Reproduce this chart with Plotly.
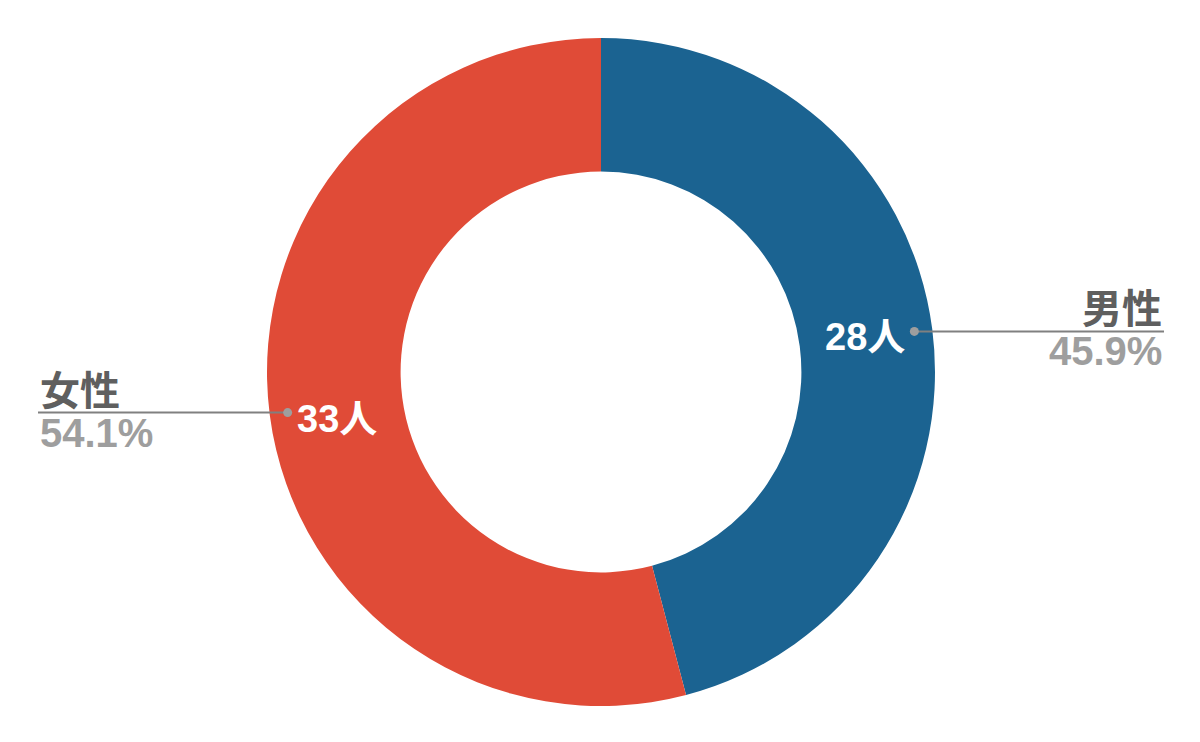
import math
import plotly.graph_objects as go

labels = ["男性", "女性"]
values = [28, 33]
colors = ["#1B6391", "#E04B37"]
counts_text = ["28人", "33人"]

W, H = 1200, 742
PW = 668
L, T = 259, 30
R, B = W - L - PW, H - T - PW
pw, ph = PW, PW
OFF = 7  # page offset in the screenshot

fig = go.Figure(go.Pie(
    labels=labels, values=values, sort=False, direction="clockwise", rotation=0,
    hole=0.6, marker=dict(colors=colors, line=dict(width=0)),
    textinfo="none", hoverinfo="label+value+percent", showlegend=False,
))

font_fam = "Arial, Liberation Sans, Noto Sans CJK JP, sans-serif"
total = sum(values)
cum = 0
ann = []
shapes = []
r_dot = 0.473
for i, v in enumerate(values):
    mid = (cum + v / 2) / total * 2 * math.pi
    cum += v
    dx = 0.5 + r_dot * math.sin(mid)
    dy = 0.5 + r_dot * math.cos(mid)
    pct = f"{v / total * 100:.1f}%"
    right = math.sin(mid) > 0
    end_px = (1163 if right else 37) - OFF
    end_x = (end_px - L) / pw
    shapes.append(dict(type="line", xref="paper", yref="paper", x0=dx, y0=dy, x1=end_x, y1=dy,
                       line=dict(color="#808080", width=2)))
    shapes.append(dict(type="circle", xref="paper", yref="paper",
                       x0=dx - 4.5 / pw, x1=dx + 4.5 / pw, y0=dy - 4.5 / ph, y1=dy + 4.5 / ph,
                       fillcolor="#9e9e9e", line=dict(width=0)))
    anch = "right" if right else "left"
    ann.append(dict(x=end_x, y=dy, xref="paper", yref="paper", text=f"<b>{labels[i]}</b>",
                    showarrow=False, xanchor=anch, yanchor="bottom", yshift=-2,
                    font=dict(family=font_fam, size=40, color="#5f5f5f")))
    ann.append(dict(x=end_x, y=dy, xref="paper", yref="paper", text=f"<b>{pct}</b>",
                    showarrow=False, xanchor=anch, yanchor="top", yshift=4,
                    font=dict(family=font_fam, size=40, color="#9e9e9e")))
    ann.append(dict(x=dx, y=dy, xref="paper", yref="paper", text=f"<b>{counts_text[i]}</b>",
                    showarrow=False, xanchor="right" if right else "left",
                    xshift=-7 if right else 7, yshift=-6,
                    font=dict(family=font_fam, size=38, color="white")))

fig.update_layout(
    width=W, height=H, margin=dict(l=L, r=R, t=T, b=B),
    paper_bgcolor="white", plot_bgcolor="white",
    annotations=ann, shapes=shapes,
)
fig.write_html("out.html")
